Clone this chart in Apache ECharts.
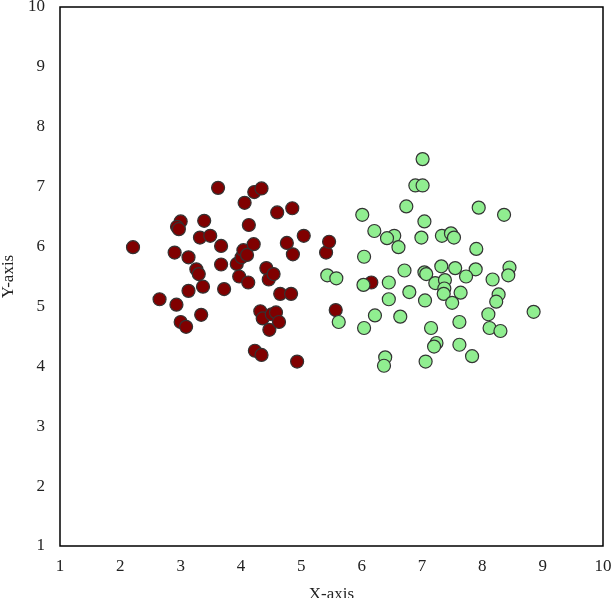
<!DOCTYPE html>
<html>
<head>
<meta charset="utf-8">
<script src="https://cdn.jsdelivr.net/npm/echarts@6/dist/echarts.min.js"></script>
<style>
  html, body { margin: 0; padding: 0; background: #fff; }
  #chart { width: 612px; height: 598px; }
</style>
</head>
<body>
<div id="chart"></div>
<script>
// 红色一组 [x, y]
var redPoints = [
  [2.21, 5.99], [2.65, 5.12], [2.90, 5.90], [2.93, 5.03], [3.00, 6.42],
  [2.94, 6.33], [2.97, 6.29], [3.00, 4.74], [3.09, 4.66], [3.13, 5.82],
  [3.13, 5.26], [3.26, 5.62], [3.30, 5.54], [3.32, 6.15], [3.34, 4.86],
  [3.37, 5.33], [3.39, 6.43], [3.49, 6.18], [3.62, 6.98], [3.67, 6.01],
  [3.67, 5.70], [3.72, 5.29], [3.93, 5.71], [3.97, 5.50], [4.01, 5.82],
  [4.04, 5.94], [4.06, 6.73], [4.10, 5.86], [4.12, 5.40], [4.13, 6.36],
  [4.21, 6.04], [4.22, 6.91], [4.23, 4.26], [4.32, 4.92], [4.34, 6.97],
  [4.34, 4.19], [4.36, 4.80], [4.42, 5.64], [4.46, 5.45], [4.47, 4.61],
  [4.51, 4.87], [4.54, 5.54], [4.58, 4.90], [4.60, 6.57], [4.63, 4.74],
  [4.65, 5.21], [4.76, 6.06], [4.83, 5.21], [4.85, 6.64], [4.86, 5.87],
  [4.93, 4.08], [5.04, 6.18], [5.41, 5.90], [5.46, 6.08], [5.57, 4.94],
  [6.16, 5.40]
];
// 绿色一组 [x, y]
var greenPoints = [
  [7.01, 7.46], [6.89, 7.02], [7.01, 7.02], [6.74, 6.67], [6.01, 6.53],
  [7.04, 6.42], [6.21, 6.26], [6.54, 6.18], [6.42, 6.14], [6.99, 6.15],
  [7.33, 6.18], [7.48, 6.22], [7.53, 6.15], [6.61, 5.99], [6.04, 5.83],
  [5.43, 5.52], [5.58, 5.47], [6.71, 5.60], [7.04, 5.57], [7.07, 5.54],
  [6.03, 5.36], [6.45, 5.40], [6.79, 5.24], [6.45, 5.12], [7.05, 5.10],
  [7.22, 5.39], [5.62, 4.74], [6.22, 4.85], [6.64, 4.83], [6.04, 4.64],
  [7.15, 4.64], [7.24, 4.39], [7.20, 4.33], [6.39, 4.15], [6.37, 4.01],
  [7.06, 4.08], [7.94, 6.65], [8.36, 6.53], [7.90, 5.96], [7.32, 5.67],
  [7.55, 5.64], [7.89, 5.62], [7.73, 5.50], [8.45, 5.65], [8.43, 5.52],
  [8.17, 5.45], [7.38, 5.44], [7.37, 5.30], [7.36, 5.21], [7.64, 5.23],
  [7.50, 5.06], [8.27, 5.20], [8.23, 5.08], [8.10, 4.87], [8.85, 4.91],
  [7.62, 4.74], [8.12, 4.64], [8.30, 4.59], [7.62, 4.36], [7.83, 4.17]
];
var axisMin = 1;
var axisMax = 10;
var xName = 'X-axis';
var yName = 'Y-axis';

var font = '"Liberation Serif", "DejaVu Serif", serif';
var myChart = echarts.init(document.getElementById('chart'));
var option = {
  animation: false,
  grid: {
    left: 60, right: 9, top: 7, bottom: 52,
    outerBoundsMode: 'none',
    containLabel: false,
    show: true,
    borderColor: '#000',
    borderWidth: 1.5
  },
  xAxis: {
    type: 'value',
    min: axisMin, max: axisMax, interval: 1,
    name: xName,
    nameLocation: 'middle',
    nameGap: 40,
    nameTextStyle: { fontFamily: font, fontSize: 17, color: '#222' },
    axisLine: { show: false },
    axisTick: { show: false },
    splitLine: { show: false },
    axisLabel: { fontFamily: font, fontSize: 17, color: '#222', margin: 12 }
  },
  yAxis: {
    type: 'value',
    min: axisMin, max: axisMax, interval: 1,
    name: yName,
    nameLocation: 'middle',
    nameGap: 42,
    nameTextStyle: { fontFamily: font, fontSize: 17, color: '#222' },
    axisLine: { show: false },
    axisTick: { show: false },
    splitLine: { show: false },
    axisLabel: { fontFamily: font, fontSize: 17, color: '#222', margin: 15 }
  },
  series: [
    {
      type: 'scatter',
      data: redPoints,
      symbolSize: 13,
      itemStyle: { color: '#800000', borderColor: '#333', borderWidth: 1.2, opacity: 1 }
    },
    {
      type: 'scatter',
      data: greenPoints,
      symbolSize: 13,
      itemStyle: { color: '#90EE90', borderColor: '#333', borderWidth: 1.2, opacity: 1 }
    }
  ]
};
myChart.setOption(option);
</script>
</body>
</html>
